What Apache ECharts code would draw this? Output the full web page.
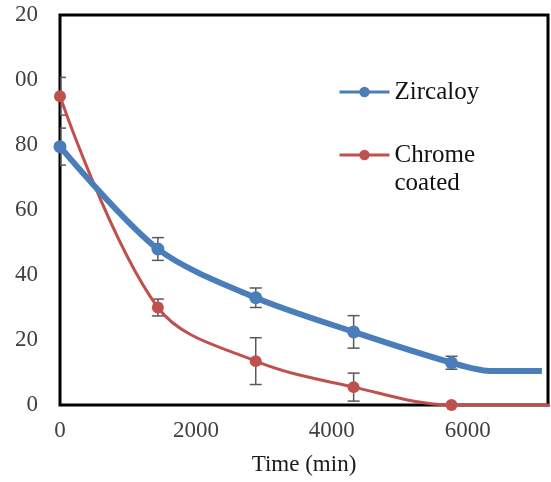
<!DOCTYPE html>
<html>
<head>
<meta charset="utf-8">
<script src="https://cdn.jsdelivr.net/npm/echarts@6/dist/echarts.min.js"></script>
<style>
  html, body { margin: 0; padding: 0; background: #fff; }
  #chart { width: 551px; height: 482px; }
</style>
</head>
<body>
<div id="chart"></div>
<script>
// time of each measurement (min)
const timePoints = [0, 1440, 2880, 4320, 5760];

const zircaloyValues = [79.5, 48, 33, 22.5, 13];
const zircaloyErr = [5.7, 3.5, 3, 5, 2];
// unmarked tail of the Zircaloy curve
const zircaloyTail = [[6320, 10.5], [7090, 10.5]];

const chromeValues = [95, 30, 13.5, 5.5, 0];
const chromeErr = [5.8, 2.6, 7.2, 4.3, 0];
const chromeTail = [[7300, 0]];

const xTicks = [0, 2000, 4000, 6000];
const yTickLabels = ['0', '20', '40', '60', '80', '00', '20'];

const FONT = '"Liberation Serif", "Times New Roman", serif';
const BLUE = '#4a7ebb';
const RED = '#c0504d';

function seriesData(values, tail) {
  const pts = timePoints.map((t, i) => [t, values[i]]);
  tail.forEach(p => pts.push({ value: p, symbol: 'none' }));
  return pts;
}

function errData(values, err) {
  return timePoints
    .map((t, i) => [t, values[i] - err[i], values[i] + err[i]])
    .filter((d, i) => err[i] > 0);
}

function renderErr(params, api) {
  const top = api.coord([api.value(0), api.value(2)]);
  const bot = api.coord([api.value(0), api.value(1)]);
  const half = 6;
  const style = { stroke: '#595959', lineWidth: 1.5 };
  return {
    type: 'group',
    children: [
      { type: 'line', shape: { x1: top[0], y1: top[1], x2: bot[0], y2: bot[1] }, style },
      { type: 'line', shape: { x1: top[0] - half, y1: top[1], x2: top[0] + half, y2: top[1] }, style },
      { type: 'line', shape: { x1: bot[0] - half, y1: bot[1], x2: bot[0] + half, y2: bot[1] }, style }
    ]
  };
}

const chart = echarts.init(document.getElementById('chart'));

const legendBase = {
  orient: 'vertical',
  left: 338,
  padding: 0,
  itemWidth: 50,
  itemHeight: 13,
  lineStyle: { width: 3 },
  textStyle: { fontFamily: FONT, fontSize: 25, color: '#111', lineHeight: 28 }
};

chart.setOption({
  animation: false,
  grid: {
    left: 60, right: 3, top: 15, bottom: 77,
    show: true, borderColor: '#000', borderWidth: 3
  },
  legend: [
    Object.assign({}, legendBase, { top: 78, data: ['Zircaloy'] }),
    Object.assign({}, legendBase, {
      top: 113,
      data: ['Chrome coated'],
      formatter: () => '\nChrome\ncoated'
    })
  ],
  xAxis: {
    type: 'value',
    min: 0, max: 7180, interval: 2000,
    name: 'Time (min)',
    nameLocation: 'middle',
    nameGap: 48,
    nameTextStyle: { fontFamily: FONT, fontSize: 23, color: '#1a1a1a' },
    axisLine: { show: false },
    axisTick: { show: false },
    splitLine: { show: false },
    axisLabel: {
      fontFamily: FONT, fontSize: 23, color: '#404040', margin: 14,
      showMaxLabel: false,
      formatter: v => (xTicks.indexOf(v) >= 0 ? String(v) : '')
    }
  },
  yAxis: {
    type: 'value',
    min: 0, max: 120, interval: 20,
    axisLine: { show: false },
    axisTick: { show: false },
    splitLine: { show: false },
    axisLabel: {
      fontFamily: FONT, fontSize: 23, color: '#404040', margin: 22,
      formatter: v => yTickLabels[Math.round(v / 20)]
    }
  },
  series: [
    {
      type: 'custom',
      name: 'errChrome',
      renderItem: renderErr,
      clip: true,
      z: 1,
      data: errData(chromeValues, chromeErr)
    },
    {
      type: 'custom',
      name: 'errZircaloy',
      renderItem: renderErr,
      clip: true,
      z: 1,
      data: errData(zircaloyValues, zircaloyErr)
    },
    {
      name: 'Chrome coated',
      type: 'line',
      smooth: 0.35,
      symbol: 'circle',
      symbolSize: 12,
      clip: false,
      z: 3,
      itemStyle: { color: RED },
      lineStyle: { color: RED, width: 3 },
      data: seriesData(chromeValues, chromeTail)
    },
    {
      name: 'Zircaloy',
      type: 'line',
      smooth: 0.3,
      symbol: 'circle',
      symbolSize: 13,
      z: 4,
      itemStyle: { color: BLUE },
      lineStyle: { color: BLUE, width: 6 },
      data: seriesData(zircaloyValues, zircaloyTail)
    }
  ]
});
</script>
</body>
</html>
